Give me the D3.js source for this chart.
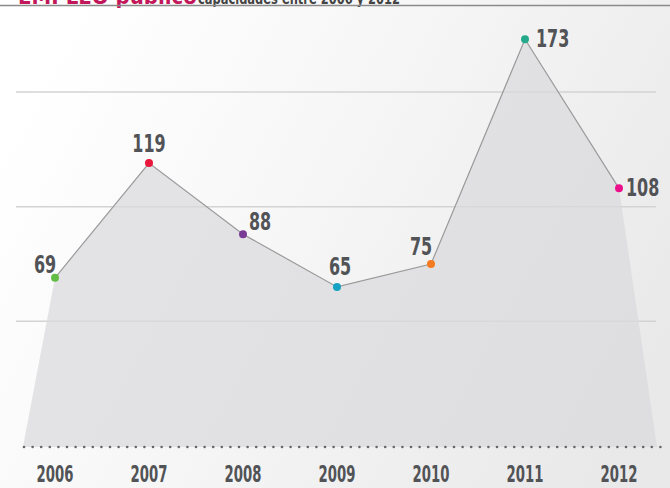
<!DOCTYPE html>
<html><head><meta charset="utf-8">
<script src="https://cdn.jsdelivr.net/npm/d3@7"></script>
<style>html,body{margin:0;padding:0;background:#fff;}svg{display:block;}</style>
</head><body>
<svg id="c" width="670" height="488"></svg>
<script>
const years = ["2006","2007","2008","2009","2010","2011","2012"];
const values = [69,119,88,65,75,173,108];
const pointColors = ["#62bd45","#e8173b","#7a3b94","#16a2c2","#f47a22","#24a98b","#ec0f8c"];
const gridTicks = [50,100,150];
const titleMain = "EMPLEO público";
const titleSub = "capacidades entre 2006 y 2012";

const W = 670, H = 488;
const svg = d3.select("#c");
const defs = svg.append("defs");
const g1 = defs.append("linearGradient").attr("id","bg").attr("x1","0").attr("y1","0.3").attr("x2","1").attr("y2","0.7");
g1.append("stop").attr("offset","0").attr("stop-color","#ffffff");
g1.append("stop").attr("offset","0.35").attr("stop-color","#f8f8f8");
g1.append("stop").attr("offset","1").attr("stop-color","#e9e9ea");
svg.append("rect").attr("width",W).attr("height",H).attr("fill","url(#bg)");

const x = d3.scalePoint().domain(years).range([55,619]);
const y = d3.scaleLinear().domain([0,150]).range([436,92]);
const baseY = 447;

// gridlines
svg.append("g").selectAll("line").data(gridTicks).join("line")
  .attr("x1",16).attr("x2",656)
  .attr("y1",d=>y(d)).attr("y2",d=>y(d))
  .attr("stroke","#d3d3d3").attr("stroke-width",1.5);

// area
const pts = years.map((yr,i)=>[x(yr), y(values[i])]);
const poly = [[23,baseY], ...pts, [657,baseY]];
svg.append("path").attr("d", d3.line()(poly) + "Z")
  .attr("fill","#d9dadd").attr("fill-opacity",0.72);

// line
svg.append("path").attr("d", d3.line()(pts))
  .attr("fill","none").attr("stroke","#9a9a9a").attr("stroke-width",1.2);

// dotted baseline
const dots = d3.range(24, 662, 8.6);
svg.append("g").selectAll("circle").data(dots).join("circle")
  .attr("cx",d=>d).attr("cy",baseY).attr("r",1.3).attr("fill","#666");

// points
svg.append("g").selectAll("circle").data(years).join("circle")
  .attr("cx",d=>x(d)).attr("cy",(d,i)=>y(values[i])).attr("r",4)
  .attr("fill",(d,i)=>pointColors[i]);

// value label placement (pixel offsets from each point)
const offs = [[-10,-5,"middle"],[0,-11,"middle"],[6,-4,"start"],[3,-12,"middle"],[-10,-9,"middle"],[11,8,"start"],[7,8,"start"]];
const font = "'Liberation Sans Narrow','DejaVu Sans Condensed',sans-serif";
svg.append("g").selectAll("text").data(years).join("text")
  .attr("transform",(d,i)=>`translate(${x(d)+offs[i][0]},${y(values[i])+offs[i][1]}) scale(0.74,1)`)
  .attr("text-anchor",(d,i)=>offs[i][2])
  .attr("font-family",font).attr("font-weight","bold").attr("font-size",24)
  .attr("fill","#515356")
  .text((d,i)=>values[i]);

// year axis labels
svg.append("g").selectAll("text").data(years).join("text")
  .attr("transform",d=>`translate(${x(d)},482) scale(0.64,1)`)
  .attr("text-anchor","middle")
  .attr("font-family",font).attr("font-weight","bold").attr("font-size",23)
  .attr("fill","#515356")
  .text(d=>d);

// cut-off title
svg.append("text").attr("x",18).attr("y",3.5)
  .attr("font-family",font).attr("font-weight","bold").attr("font-size",22)
  .attr("fill","#c2185b").text(titleMain);
svg.append("text").attr("transform","translate(198,3.5) scale(0.85,1)")
  .attr("font-family",font).attr("font-weight","bold").attr("font-size",15)
  .attr("fill","#444").text(titleSub);
svg.append("line").attr("x1",0).attr("x2",W).attr("y1",5.5).attr("y2",5.5)
  .attr("stroke","#8a8a8a").attr("stroke-width",1.5);
</script>
</body></html>
